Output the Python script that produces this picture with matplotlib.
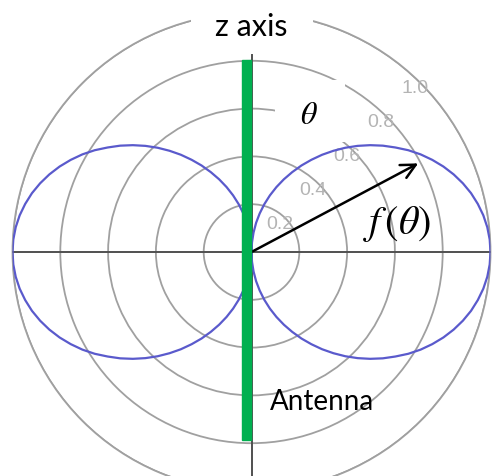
import numpy as np
import matplotlib
matplotlib.use("Agg")
import matplotlib.pyplot as plt
from matplotlib.patches import Rectangle

plt.rcParams["mathtext.fontset"] = "stix"

# Half-wave dipole field pattern f(theta), theta measured from the z axis (deg),
# upper half 0..90; the 90..180 half mirrors it
theta_half = [0, 3, 6, 9, 12, 15, 18, 21, 24, 27, 30, 33, 36, 39, 42, 45, 48, 51, 54,
              57, 60, 63, 66, 69, 72, 75, 78, 81, 84, 87, 90]
pattern_half = [0.000, 0.041, 0.082, 0.124, 0.165, 0.207, 0.249, 0.291, 0.333, 0.375,
                0.418, 0.460, 0.503, 0.545, 0.587, 0.628, 0.668, 0.707, 0.744, 0.782,
                0.817, 0.849, 0.879, 0.906, 0.930, 0.951, 0.968, 0.982, 0.992, 0.998,
                1.000]

ring_values = [0.2, 0.4, 0.6, 0.8, 1.0]
ring_labels = ["0.2", "0.4", "0.6", "0.8", "1.0"]

arrow_theta = 62     # direction of the f(theta) arrow (deg from z axis)
arrow_len = 0.79

theta_deg = theta_half + [180 - t for t in theta_half[-2::-1]]
pattern = pattern_half + pattern_half[-2::-1]

W, H = 500, 476
fig = plt.figure(figsize=(W / 100, H / 100), dpi=100)
fig.patch.set_facecolor("white")

# polar frame: centre at (251.5, 252) px from top-left, unit radius = 239 px
cx, cy, R = 251.5, 252.0, 239.0
rect = [(cx - R) / W, (H - cy - R) / H, 2 * R / W, 2 * R / H]

ax = fig.add_axes(rect, projection="polar")
ax.set_theta_zero_location("N")
ax.set_theta_direction(-1)
ax.set_ylim(0, 1)
ax.set_thetagrids([])
ax.xaxis.grid(False)
ax.set_rgrids(ring_values, labels=[""] * len(ring_values))
ax.yaxis.grid(True, color="#a0a0a0", lw=1.3)
ax.spines["polar"].set_color("#a0a0a0")
ax.spines["polar"].set_linewidth(1.3)
ax.set_facecolor("none")

# ring labels along the 45 deg direction
for rv, lab in zip(ring_values, ring_labels):
    ax.text(np.deg2rad(45), rv - 0.035, lab, ha="center", va="center",
            fontsize=14, color="#b4b4b4", family="Liberation Sans")

# axis lines
axis_kw = dict(color="#505050", lw=1.4, zorder=3)
ax.plot([np.deg2rad(90), np.deg2rad(90)], [0, 1], **axis_kw)
ax.plot([np.deg2rad(270), np.deg2rad(270)], [0, 1], **axis_kw)
ax.plot([0, 0], [0, 0.825], **axis_kw)
ax.plot([np.pi, np.pi], [0, 1.0], clip_on=False, **axis_kw)

# radiation pattern lobes (both sides of the antenna)
th = np.deg2rad(theta_deg)
ax.plot(th, pattern, color="#5a5acc", lw=1.6, zorder=4)
ax.plot(-th, pattern, color="#5a5acc", lw=1.6, zorder=4)

# f(theta) arrow
ax.annotate("", xy=(np.deg2rad(arrow_theta), arrow_len), xytext=(0, 0),
            arrowprops=dict(arrowstyle="->", color="black", lw=1.8,
                            mutation_scale=26, shrinkA=0, shrinkB=0), zorder=6)

# overlay in the same unit frame for antenna and labels
ov = fig.add_axes(rect)
ov.set_xlim(-1, 1)
ov.set_ylim(-1, 1)
ov.axis("off")
ov.patch.set_alpha(0)

u = 1 / R
ov.add_patch(Rectangle((-9.5 * u, -188 * u), 9 * u, 380 * u, color="#00b050", zorder=5))

# white label boxes
ov.add_patch(Rectangle((-61 * u, (cy - 45) * u), 122 * u, 40 * u,
                       facecolor="white", edgecolor="none", zorder=6, clip_on=False))
ov.add_patch(Rectangle((23 * u, (cy - 142) * u), 70 * u, 62 * u,
                       facecolor="white", edgecolor="none", zorder=6))

ov.text(0, (cy - 27) * u, "z axis", ha="center", va="center", fontsize=22,
        family="Lato", color="black", zorder=7, clip_on=False)
ov.text(57 * u, (cy - 115) * u, r"$\theta$", ha="center", va="center",
        fontsize=23, color="black", zorder=7)
ov.text(146 * u, (cy - 224) * u, r"$f\,(\theta)$", ha="center", va="center",
        fontsize=29, color="black", zorder=7)
ov.text(70 * u, (cy - 402) * u, "Antenna", ha="center", va="center", fontsize=20,
        family="Lato", color="black", zorder=7)

fig.savefig("out.png", dpi=100)
